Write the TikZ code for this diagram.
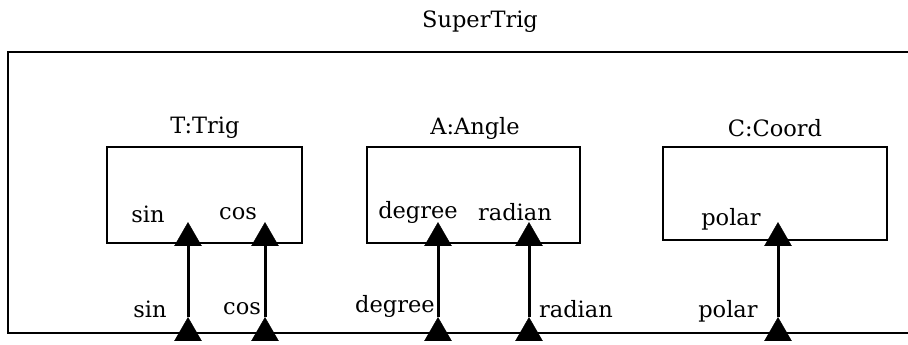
\documentclass[tikz,border=0pt]{standalone}
\usepackage{fontspec}
\setmainfont{DejaVu Serif}
\usetikzlibrary{shapes.geometric}
\begin{document}
\begin{tikzpicture}[x=1pt,y=-1pt,
  box/.style={draw,line width=2.8pt,inner sep=0pt},
  port/.style={regular polygon,regular polygon sides=3,fill=black,draw=black,inner sep=0pt,minimum size=31pt},
  lbl/.style={font=\fontsize{22.5}{26}\selectfont,inner sep=0pt},
  conn/.style={line width=3pt}]
\useasboundingbox (0,0) rectangle (908,345);
\clip (0,0) rectangle (908,345);
\fill[white] (0,0) rectangle (908,345);
% outer component
\draw[line width=2.8pt] (8,52) rectangle (930,333);
\node[lbl] (super) at (480,22) {SuperTrig};
% inner components
\node[box,minimum width=195pt,minimum height=96pt] (T) at (204.5,195) {};
\node[box,minimum width=213pt,minimum height=96pt] (A) at (473.5,195) {};
\node[box,minimum width=224pt,minimum height=93pt] (C) at (775,193.5) {};
\node[lbl] (Tl) at (205,128) {T:Trig};
\node[lbl] (Al) at (475,128) {A:Angle};
\node[lbl] (Cl) at (775,128) {C:Coord};
% inner ports
\node[port] (ts) at (188,238) {};
\node[port] (tc) at (265,238) {};
\node[port] (ad) at (438,238) {};
\node[port] (ar) at (529,238) {};
\node[port] (cp) at (778,238) {};
% outer ports
\node[port] (os) at (188,333) {};
\node[port] (oc) at (265,333) {};
\node[port] (od) at (438,333) {};
\node[port] (or) at (529,333) {};
\node[port] (op) at (778,333) {};
% connectors
\draw[conn] (os) -- (ts);
\draw[conn] (oc) -- (tc);
\draw[conn] (od) -- (ad);
\draw[conn] (or) -- (ar);
\draw[conn] (op) -- (cp);
% inner port labels
\node[lbl] (tsl) at (148,214) {sin};
\node[lbl] (tcl) at (238,214) {cos};
\node[lbl] (adl) at (418,212) {degree};
\node[lbl] (arl) at (515,212) {radian};
\node[lbl] (cpl) at (731,219) {polar};
% outer port labels
\node[lbl] (osl) at (150,309) {sin};
\node[lbl] (ocl) at (242,309) {cos};
\node[lbl] (odl) at (395,306) {degree};
\node[lbl] (orl) at (576,309) {radian};
\node[lbl] (opl) at (728,311) {polar};
\end{tikzpicture}
\end{document}
